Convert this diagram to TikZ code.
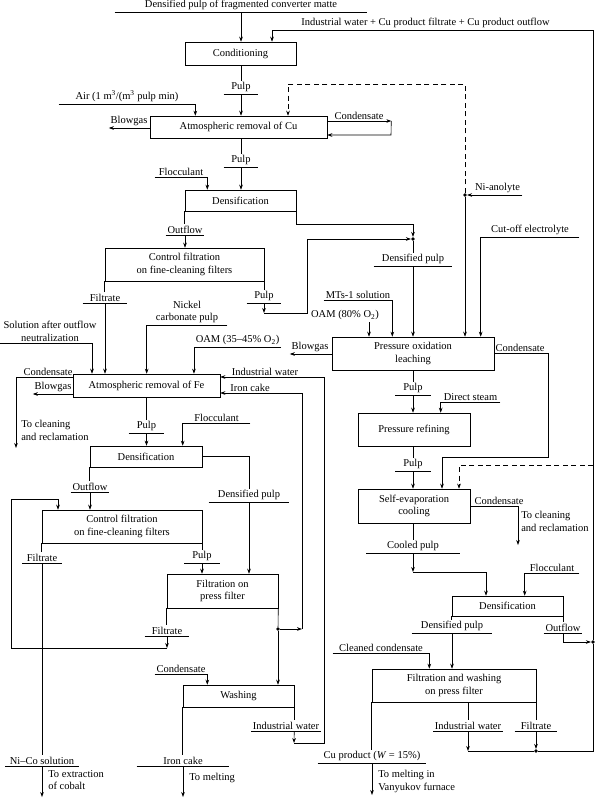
\documentclass[tikz,border=0pt]{standalone}
\usepackage{fontspec}
\setmainfont{Liberation Serif}
\usetikzlibrary{arrows.meta}

\begin{document}
\begin{tikzpicture}[x=1pt,y=-1pt,line width=0.6pt,
  >={Stealth[length=5pt,width=3.6pt]},
  font=\fontsize{10.5}{12.5}\selectfont,
  blk/.style 2 args={draw, align=center, inner sep=2pt, minimum width=#1, minimum height=#2},
  lab/.style={inner sep=1.5pt, anchor=south, align=center, minimum width=#1},
  lab/.default=0,
  txt/.style={inner sep=0pt, anchor=north west, align=left},
  dot/.style={circle, fill, inner sep=0pt, minimum size=3.6pt},
  dsh/.style={dash pattern=on 5pt off 3.5pt}]
\useasboundingbox (0,0) rectangle (595,798);

% boxes
\node[blk={111}{23}] (cond) at (240.5,53.5) {Conditioning};
\node[blk={177}{22}] (atcu) at (238.5,127) {Atmospheric removal of Cu};
\node[blk={111}{21}] (dens1) at (240.5,200.5) {Densification};
\node[blk={159}{33}] (cf1) at (184.5,264.5) {Control filtration\\on fine-cleaning filters};
\node[blk={147}{23}] (atfe) at (146.5,385.5) {Atmospheric removal of Fe};
\node[blk={112}{21}] (dens2) at (146,456.5) {Densification};
\node[blk={160}{33}] (cf2) at (122,526.5) {Control filtration\\on fine-cleaning filters};
\node[blk={111}{34}] (pf) at (222.5,591) {Filtration on\\press filter};
\node[blk={111}{22}] (wash) at (238.5,696) {Washing};
\node[blk={162}{33}] (pol) at (413,353.5) {Pressure oxidation\\leaching};
\node[blk={112}{33}] (pr) at (414,429.5) {Pressure refining};
\node[blk={112}{34}] (sec) at (414,506) {Self-evaporation\\cooling};
\node[blk={111}{20}] (dens3) at (507.5,606) {Densification};
\node[blk={164}{33}] (fw) at (454,685.5) {Filtration and washing\\on press filter};

% stream labels
\node[lab=252] (feed) at (241,12) {Densified pulp of fragmented converter matte};
\node[lab] (iwtop) at (425.5,30) {Industrial water + Cu product filtrate + Cu product outflow};
\node[lab=34] (pulp1) at (241,94) {Pulp};
\node[lab=136] (air) at (127,104) {Air (1 m\textsuperscript{3}/(m\textsuperscript{3} pulp min)};
\node[lab] (bg1) at (129,128) {Blowgas};
\node[lab=64] (cd1) at (359,121) {Condensate};
\node[dot] (nidot) at (465,195) {};
\node[lab=49] (nia) at (497.5,195) {Ni-anolyte};
\node[lab=34] (pulp2) at (241,167) {Pulp};
\node[lab=52] (floc1) at (181,177) {Flocculant};
\node[dot] (dpdot) at (413,239) {};
\node[lab=78] (dp1) at (413,266) {Densified pulp};
\node[lab=34] (outfl1) at (185,235) {Outflow};
\node[lab=44] (filt1) at (105,303) {Filtrate};
\node[lab=34] (pulp3) at (264,303) {Pulp};
\node[lab] (sol) at (50,343) {Solution after outflow\\neutralization};
\node[lab=80] (nick) at (187,325) {Nickel\\carbonate pulp};
\node[lab=85] (oam1) at (237.5,347) {OAM (35--45\% O\textsubscript{2})};
\node[lab] (iw1) at (265,377) {Industrial water};
\node[lab] (ic1) at (250,393) {Iron cake};
\node[lab] (cd5) at (48,377) {Condensate};
\node[lab] (bg2) at (53,394) {Blowgas};
\node[txt] (tocl1) at (21,420) {To cleaning\\and reclamation};
\node[lab=35] (pulp4) at (146.5,433) {Pulp};
\node[lab=67] (floc2) at (216.5,423) {Flocculant};
\node[lab=80] (dp2) at (249,502) {Densified pulp};
\node[lab=36] (outfl2) at (90,492) {Outflow};
\node[lab=39] (filt2) at (42,563) {Filtrate};
\node[lab=35] (pulp5) at (202,563) {Pulp};
\node[lab=44] (filt3) at (167,636) {Filtrate};
\node[dot] (pfdot) at (278,629) {};
\node[lab=48] (cd2) at (181,674) {Condensate};
\node[lab] (iw2) at (286,731) {Industrial water};
\node[lab=92] (ic2) at (183,766) {Iron cake};
\node[txt] (tomelt) at (189,773) {To melting};
\node[lab=73] (nico) at (42,766) {Ni--Co solution};
\node[txt] (toext) at (48,770) {To extraction\\of cobalt};
\node[lab=68] (mts) at (358,300) {MTs-1 solution};
\node[lab] (oam2) at (345,322) {OAM (80\% O\textsubscript{2})};
\node[lab=98] (cutoff) at (530,237) {Cut-off electrolyte};
\node[lab] (bg3) at (310,354) {Blowgas};
\node[lab] (cd3) at (520,353) {Condensate};
\node[lab=35] (pulp6) at (413,395) {Pulp};
\node[lab=59] (steam) at (470.5,402) {Direct steam};
\node[lab=35] (pulp7) at (413,471) {Pulp};
\node[lab] (cd4) at (499,506) {Condensate};
\node[txt] (tocl2) at (521,511) {To cleaning\\and reclamation};
\node[lab=93] (cool) at (413,553) {Cooled pulp};
\node[lab=54] (floc3) at (552,573) {Flocculant};
\node[lab=80] (dp3) at (452,633) {Densified pulp};
\node[lab=35] (outfl3) at (563,633) {Outflow};
\node[dot] (rdot) at (593,642) {};
\node[lab=96] (cc) at (381,653) {Cleaned condensate};
\node[lab=108] (cup) at (372,763) {Cu product (\textit{W} = 15\%)};
\node[txt] (tomelt2) at (378,770) {To melting in\\Vanyukov furnace};
\node[lab] (iw3) at (468,731) {Industrial water};
\node[lab=42] (filt4) at (536,731) {Filtrate};
\node[dot] (bdot) at (536,751) {};

% bends and free ends
\coordinate (cd1ret) at (391,135);
\coordinate (dshtop) at (465,84);
\coordinate (dshin) at ([xshift=49.5pt]atcu.north);
\coordinate (p3c) at (264,313);
\coordinate (solS) at (0,343);
\coordinate (cdl) at (16,377);
\coordinate (cdle) at (16,448);
\coordinate (lpb) at (11,648);
\coordinate (lpt) at (58,499);
\coordinate (icb) at (302,629);
\coordinate (iwc) at (294,743);
\coordinate (iwr) at (324,377);
\coordinate (nicoE) at (42,797);
\coordinate (icE) at (183,797);
\coordinate (oamA) at ([xshift=24pt]oam2.south);
\coordinate (c3a) at (548,353);
\coordinate (c3b) at (442,457);
\coordinate (rd) at (593,465);
\coordinate (c4a) at (518,506);
\coordinate (c4b) at (518,545);
\coordinate (cpc) at (413,572);
\coordinate (cupE) at (372,795);
\coordinate (rbot) at (593,751);
\coordinate (rtop) at (593,30);

\foreach \n in {feed,pulp1,pulp2,dp1,outfl1,filt1,pulp3,pulp4,dp2,outfl2,filt2,pulp5,filt3,iw2,ic2,nico,nia,pulp6,pulp7,cool,dp3,outfl3,cup,iw3,filt4}
  \draw (\n.south west) -- (\n.south east);

% copper line
\draw[->] (feed.south) -- (feed |- cond.north);
\draw (cond.south -| pulp1) -- (pulp1.north);
\draw[->] (pulp1.south) -- (pulp1 |- atcu.north);
\draw[->] (air.south west) -- (air.south east) -- (air.south east |- atcu.north);
\draw[->] (atcu.west |- bg1.south) -- (bg1.south west);
\draw[->] (atcu.east |- cd1.south) -- (cd1.south east);
\draw[->] (cd1.south east) -- (cd1ret) -- (atcu.east |- cd1ret);
\draw[dsh,->] (nidot) -- (dshtop) -| (dshin);
\draw[->] (nia.south east) -- (nidot);
\draw[->] (nidot) -- (nidot |- pol.north);
\draw (atcu.south -| pulp2) -- (pulp2.north);
\draw[->] (pulp2.south) -- (pulp2 |- dens1.north);
\draw[->] (floc1.south west) -- (floc1.south east) -- (floc1.south east |- dens1.north);
\draw[->] (dens1.south east) -- ++(0,13) -| (dpdot);
\draw (dpdot) -- (dp1.north);
\draw[->] (dp1.south) -- (dp1 |- pol.north);
\draw (dens1.south west) -- (dens1.south west |- outfl1.north);
\draw[->] (outfl1.south) -- (outfl1 |- cf1.north);
\draw (cf1.south west) -- (cf1.south west |- filt1.north);
\draw[->] (filt1.south) -- (filt1 |- atfe.north);
\draw (cf1.south east) -- (cf1.south east |- pulp3.north);
\draw[->] (pulp3.south) -- (p3c);
\draw[->] (p3c) -- ++(43,0) |- (dpdot);

% iron removal
\draw[->] (solS) -| ([xshift=-54.5pt]atfe.north);
\draw[->] (nick.south east) -- (nick.south west) -- (nick.south west |- atfe.north);
\draw[->] (oam1.south east) -- (oam1.south west) -- (oam1.south west |- atfe.north);
\draw[->] (atfe.west |- bg2.south) -- (bg2.south west);
\draw[->] (atfe.west |- cd5.south) -- (cdl) -- (cdle);
\draw (atfe.south -| pulp4) -- (pulp4.north);
\draw[->] (pulp4.south) -- (pulp4 |- dens2.north);
\draw[->] (floc2.south east) -- (floc2.south west) -- (floc2.south west |- dens2.north);
\draw (dens2.east) -| (dp2.north);
\draw[->] (dp2.south) -- (dp2 |- pf.north);
\draw (dens2.south west) -- (dens2.south west |- outfl2.north);
\draw[->] (outfl2.south) -- (outfl2 |- cf2.north);
\draw (cf2.south west) -- (cf2.south west |- filt2.north);
\draw (filt2.south) -- (nico.north);
\draw[->] (nico.south) -- (nicoE);
\draw (cf2.south east) -- (cf2.south east |- pulp5.north);
\draw[->] (pulp5.south) -- (pulp5 |- pf.north);
\draw (pf.south west) -- (pf.south west |- filt3.north);
\draw[->] (filt3.south) -- (filt3 |- lpb);
\draw[->] (filt3 |- lpb) -- (lpb) |- (lpt) -- (lpt |- cf2.north);
\draw (pf.south east) -- (pfdot);
\draw[->] (pfdot) -- (pfdot |- wash.north);
\draw[->] (pfdot) -- (icb);
\draw[->] (icb) |- (atfe.east |- ic1.south);
\draw[->] (cd2.south west) -- (cd2.south east) -- (cd2.south east |- wash.north);
\draw (wash.south east) -- (wash.south east |- iw2.north);
\draw[->] (wash.south east |- iw2.south) -- (iwc);
\draw[->] (iwc) -| (iwr) -- (atfe.east |- iwr);
\draw (wash.south west) -- (wash.south west |- ic2.north);
\draw[->] (ic2.south) -- (icE);

% pressure leaching
\draw[->] (mts.south west) -- (mts.south east) -- (mts.south east |- pol.north);
\draw[->] (oamA) -- (oamA |- pol.north);
\draw[->] (cutoff.south east) -- (cutoff.south west) -- (cutoff.south west |- pol.north);
\draw[->] (pol.west |- bg3.south) -- (bg3.south west);
\draw[->] (pol.east |- cd3.south) -- (c3a) |- (c3b) -- (c3b |- sec.north);
\draw (pol.south) -- (pulp6.north);
\draw[->] (pulp6.south) -- (pulp6 |- pr.north);
\draw[->] (steam.south east) -- (steam.south west) -- (steam.south west |- pr.north);
\draw (pr.south -| pulp7) -- (pulp7.north);
\draw[->] (pulp7.south) -- (pulp7 |- sec.north);
\draw[dsh,->] (rd) -| ([xshift=45pt]sec.north);
\draw[->] (sec.east) -- (c4a) -- (c4b);
\draw (sec.south -| cool) -- (cool.north);
\draw[->] (cool.south) -- (cpc);
\draw[->] (cpc) -| ([xshift=-21.5pt]dens3.north);
\draw[->] (floc3.south east) -- (floc3.south west) -- (floc3.south west |- dens3.north);
\draw (dens3.south west) -- (dens3.south west |- dp3.north);
\draw[->] (dp3.south) -- (dp3 |- fw.north);
\draw (dens3.south east) -- (dens3.south east |- outfl3.north);
\draw[->] (outfl3.south) |- (rdot);
\draw[->] (cc.south west) -- (cc.south east) -- (cc.south east |- fw.north);
\draw (fw.south west) -- (fw.south west |- cup.north);
\draw[->] (cup.south) -- (cupE);
\draw (fw.south -| iw3) -- (iw3.north);
\draw[->] (iw3.south) -- (iw3 |- bdot);
\draw (fw.south east) -- (fw.south east |- filt4.north);
\draw[->] (filt4.south) -- (bdot);
\draw (iw3 |- bdot) -- (bdot) -- (rbot) -- (rdot);
\draw[->] (rdot) -- (rtop) -| ([xshift=31.5pt]cond.north);
\end{tikzpicture}
\end{document}
